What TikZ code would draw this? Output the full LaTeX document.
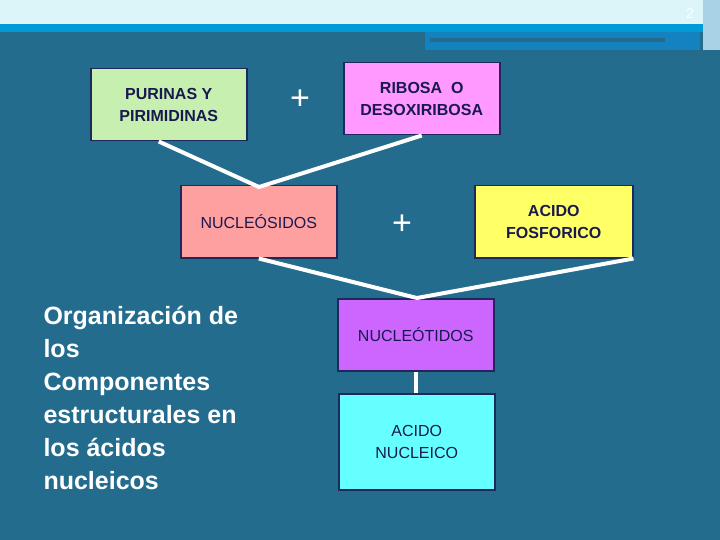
\documentclass[tikz,border=0pt]{standalone}
\usepackage{fontspec}
\setmainfont{Liberation Sans}
\definecolor{bgc}{RGB}{35,108,142}
\definecolor{topc}{RGB}{220,245,248}
\definecolor{bandc}{RGB}{0,155,215}
\definecolor{bandb}{RGB}{20,130,190}
\definecolor{sidec}{RGB}{170,210,230}
\definecolor{grn}{RGB}{198,239,176}
\definecolor{pnk}{RGB}{255,153,255}
\definecolor{sal}{RGB}{255,160,160}
\definecolor{yel}{RGB}{255,255,102}
\definecolor{vio}{RGB}{204,102,255}
\definecolor{cya}{RGB}{102,255,255}
\definecolor{txt}{RGB}{25,25,80}
\definecolor{edg}{RGB}{30,40,90}
\begin{document}
\begin{tikzpicture}[x=1pt,y=-1pt,
  bx/.style={draw=edg,line width=1.5pt,minimum width=156pt,align=center,text=txt,font=\fontsize{16}{22}\selectfont,anchor=north west},
  bb/.style={bx,font=\bfseries\fontsize{16}{22}\selectfont},
  conn/.style={white,line width=4pt}]
\fill[bgc] (0,0) rectangle (720,540);
\fill[topc] (0,0) rectangle (720,24);
\fill[bandc] (0,24) rectangle (720,32);
\fill[bandb] (425,32) rectangle (700,50);
\fill[bgc] (430,38) rectangle (665,42);
\fill[sidec] (703,0) rectangle (720,50);
\node[white,font=\fontsize{14}{14}\selectfont] (pg) at (690,14) {2};
\node[bb,fill=grn,minimum height=72pt] (pur) at (90,68) {PURINAS Y\\PIRIMIDINAS};
\node[bb,fill=pnk,minimum height=72pt] (rib) at (343,62) {RIBOSA\ \ O\\DESOXIRIBOSA};
\node[bx,fill=sal,minimum height=72pt] (nuc) at (180,185) {NUCLEÓSIDOS};
\node[bb,fill=yel,minimum height=72pt,minimum width=158pt] (fos) at (474,185) {ACIDO\\FOSFORICO};
\node[bx,fill=vio,minimum height=72pt] (nut) at (337,298) {NUCLEÓTIDOS};
\node[bx,fill=cya,minimum height=96pt] (aci) at (338,393) {ACIDO\\NUCLEICO};
\node[white,font=\fontsize{34}{34}\selectfont] (p1) at (300,100) {+};
\node[white,font=\fontsize{34}{34}\selectfont] (p2) at (402,225) {+};
\coordinate (j1) at (259,187);
\coordinate (j2) at (417,298);
\draw[conn] ([xshift=-10pt]pur.south) -- (j1) -- (rib.south);
\draw[conn] (nuc.south) -- (j2) -- (fos.south east);
\draw[conn] (nut.south) -- (nut.south |- aci.north);
\node[anchor=north west,align=left,text=white,font=\bfseries\fontsize{25}{33}\selectfont] (tt) at (40,303) {Organización de\\los\\Componentes\\estructurales en\\los ácidos\\nucleicos};
\end{tikzpicture}
\end{document}
